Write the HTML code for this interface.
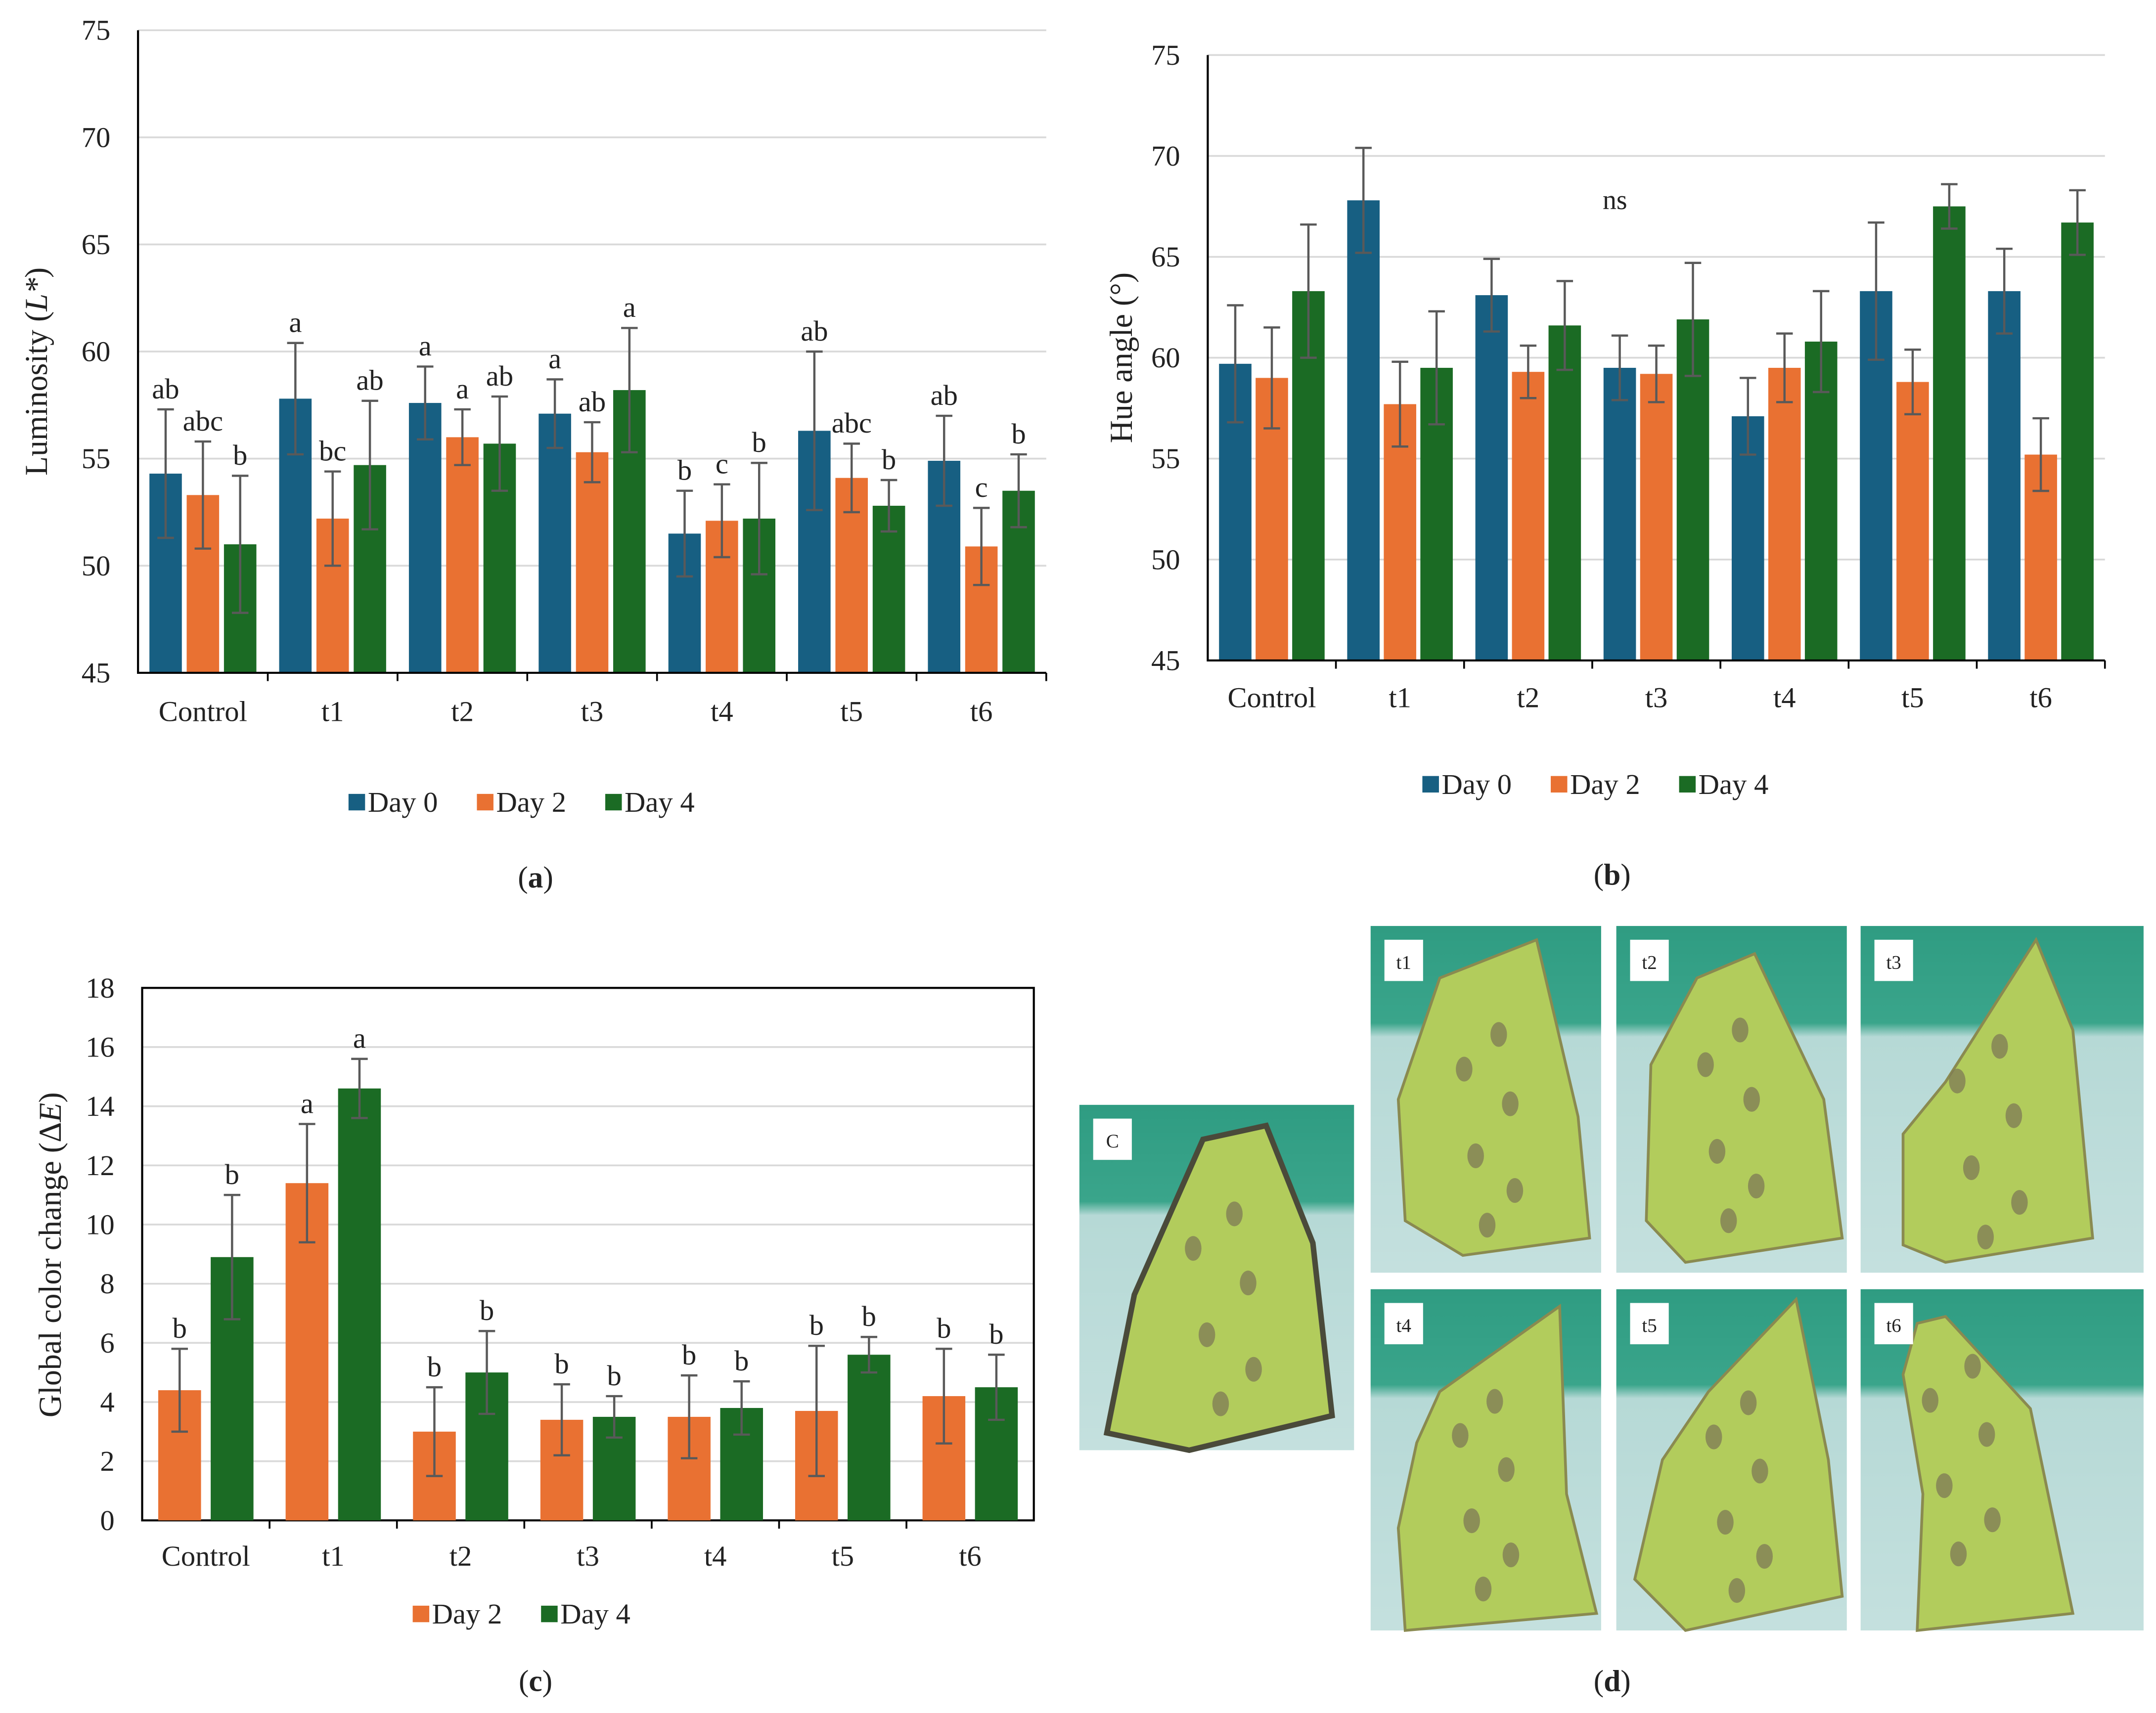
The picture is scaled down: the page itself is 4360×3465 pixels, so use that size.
<!DOCTYPE html>
<html><head><meta charset="utf-8">
<style>
html,body{margin:0;padding:0;background:#fff;}
svg{display:block;}
text{font-family:"Liberation Serif",serif;fill:#222;}
</style></head>
<body>
<svg id="fig" width="4360" height="3465" viewBox="0 0 1562 1245" preserveAspectRatio="none" xmlns="http://www.w3.org/2000/svg">
<defs>
<linearGradient id="cloth" x1="0" y1="0" x2="0" y2="1">
<stop offset="0" stop-color="#2f9c82"/><stop offset="0.28" stop-color="#3aa58b"/><stop offset="0.32" stop-color="#b6d9d6"/><stop offset="1" stop-color="#c4e0de"/>
</linearGradient>
</defs>
<g id="pa"></g>
<g id="pb"></g>
<g id="pc"></g>
<g id="pd"></g>
<text x="388" y="645" font-size="22" text-anchor="middle">(<tspan font-weight="bold">a</tspan>)</text>
<text x="1168" y="643" font-size="22" text-anchor="middle">(<tspan font-weight="bold">b</tspan>)</text>
<text x="388" y="1229" font-size="22" text-anchor="middle">(<tspan font-weight="bold">c</tspan>)</text>
<text x="1168" y="1229" font-size="22" text-anchor="middle">(<tspan font-weight="bold">d</tspan>)</text>
</svg>
<script>
const categories = ["Control","t1","t2","t3","t4","t5","t6"];
// Panel a: luminosity
const aDay0 = [54.3,57.8,57.6,57.1,51.5,56.3,54.9];
const aDay2 = [53.3,52.2,56.0,55.3,52.1,54.1,50.9];
const aDay4 = [51.0,54.7,55.7,58.2,52.2,52.8,53.5];
const aErr0 = [3.0,2.6,1.7,1.6,2.0,3.7,2.1];
const aErr2 = [2.5,2.2,1.3,1.4,1.7,1.6,1.8];
const aErr4 = [3.2,3.0,2.2,2.9,2.6,1.2,1.7];
const aLet0 = ["ab","a","a","a","b","ab","ab"];
const aLet2 = ["abc","bc","a","ab","c","abc","c"];
const aLet4 = ["b","ab","ab","a","b","b","b"];
const aTicks = [45,50,55,60,65,70,75];
// Panel b: hue angle
const bDay0 = [59.7,67.8,63.1,59.5,57.1,63.3,63.3];
const bDay2 = [59.0,57.7,59.3,59.2,59.5,58.8,55.2];
const bDay4 = [63.3,59.5,61.6,61.9,60.8,67.5,66.7];
const bErr0 = [2.9,2.6,1.8,1.6,1.9,3.4,2.1];
const bErr2 = [2.5,2.1,1.3,1.4,1.7,1.6,1.8];
const bErr4 = [3.3,2.8,2.2,2.8,2.5,1.1,1.6];
const bTicks = [45,50,55,60,65,70,75];
// Panel c: global color change
const cDay2 = [4.4,11.4,3.0,3.4,3.5,3.7,4.2];
const cDay4 = [8.9,14.6,5.0,3.5,3.8,5.6,4.5];
const cErr2 = [1.4,2.0,1.5,1.2,1.4,2.2,1.6];
const cErr4 = [2.1,1.0,1.4,0.7,0.9,0.6,1.1];
const cLet2 = ["b","a","b","b","b","b","b"];
const cLet4 = ["b","a","b","b","b","b","b"];
const cTicks = [0,2,4,6,8,10,12,14,16,18];

const COL = {d0:"#175f82", d2:"#e97132", d4:"#1b6b24"};
const NS = "http://www.w3.org/2000/svg";
function mk(parent, tag, attrs, txt){
  const e = document.createElementNS(NS, tag);
  for (const k in attrs) e.setAttribute(k, attrs[k]);
  if (txt !== undefined) e.textContent = txt;
  parent.appendChild(e);
  return e;
}

function chart(g, cfg){
  const yScale = v => cfg.y0 + (v - cfg.min) / (cfg.max - cfg.min) * (cfg.y1 - cfg.y0);
  const bw = (cfg.x1 - cfg.x0) / categories.length;
  // gridlines & ticks
  cfg.ticks.forEach(t => {
    const y = yScale(t);
    if (t !== cfg.min || cfg.box) {
      const gl = mk(g,"line",{x1:cfg.x0,x2:cfg.x1,y1:y,y2:y,stroke:cfg.box?"#d9d9d9":"#d9d9d9","stroke-width":1.3});
      
      
    }
    const tl = mk(g,"text",{x:cfg.x0-20,y:y+7,"font-size":21,"text-anchor":"end"}, t);
    
    
  });
  if (cfg.box) {
    const bx = mk(g,"rect",{x:cfg.x0,y:yScale(cfg.max),width:cfg.x1-cfg.x0,height:yScale(cfg.min)-yScale(cfg.max),fill:"none",stroke:"#000","stroke-width":1.5});
    
    
  }
  const series = cfg.series;
  const n = series.length;
  const totalW = n * cfg.barW + (n - 1) * cfg.gap;
  categories.forEach((c, i) => {
    const cx = cfg.x0 + bw * (i + 0.5);
    series.forEach((s, j) => {
      const x = cx - totalW / 2 + j * (cfg.barW + cfg.gap);
      const v = s.vals[i];
      const yTop = yScale(v), yB = yScale(cfg.min);
      const r = mk(g,"rect",{x:x,y:yTop,width:cfg.barW,height:yB-yTop,fill:s.color});
      
      
      const ex = x + cfg.barW / 2, eHi = yScale(v + s.err[i]), eLo = yScale(v - s.err[i]);
      const eb = mk(g,"path",{d:`M${ex},${eHi}V${eLo}M${ex-6},${eHi}H${ex+6}M${ex-6},${eLo}H${ex+6}`,stroke:"#595959","stroke-width":1.6,fill:"none"});
      
      
      if (s.letters) {
        const lt = mk(g,"text",{x:ex,y:eHi-8,"font-size":21,"text-anchor":"middle"}, s.letters[i]);
        
        
      }
    });
    const xl = mk(g,"text",{x:cx,y:cfg.labelY,"font-size":21,"text-anchor":"middle"}, c);
    
    
    if (!cfg.box) {
      const tk = mk(g,"line",{x1:cfg.x0+bw*(i+1),x2:cfg.x0+bw*(i+1),y1:yScale(cfg.min),y2:yScale(cfg.min)+6,stroke:"#000","stroke-width":1.3});
      
      
    } else if (i < categories.length - 1) {
      const tk = mk(g,"line",{x1:cfg.x0+bw*(i+1),x2:cfg.x0+bw*(i+1),y1:yScale(cfg.min),y2:yScale(cfg.min)+6,stroke:"#000","stroke-width":1.3});
      
      
    }
  });
  if (!cfg.box) {
    const ax = mk(g,"path",{d:`M${cfg.x0},${yScale(cfg.max)}V${yScale(cfg.min)}H${cfg.x1}`,stroke:"#000","stroke-width":1.5,fill:"none"});
    
    
  }
  // y title
  const yt = mk(g,"text",{transform:`translate(${cfg.titleX},${cfg.titleY}) rotate(-90)`,"font-size":23,"text-anchor":"middle"});
  yt.innerHTML = cfg.title;
  
  
  // legend
  const items = series.map(s => s.name);
  const itemW = 93;
  let lx = cfg.legX - items.length * itemW / 2;
  series.forEach(s => {
    const lg = mk(g,"g",{});
    
    
    mk(lg,"rect",{x:lx,y:cfg.legY-13,width:12,height:12,fill:s.color});
    mk(lg,"text",{x:lx+14,y:cfg.legY,"font-size":21}, s.name);
    lx += itemW;
  });
}

chart(document.getElementById("pa"), {
  x0:100, x1:758, y0:489, y1:22, min:45, max:75, ticks:aTicks, barW:23.5, gap:3.5, labelY:524,
  title:'Luminosity (<tspan font-style="italic">L*</tspan>)', titleX:34, titleY:270, legX:392, legY:590,
  series:[
    {key:"day0",name:"Day 0",color:COL.d0,vals:aDay0,err:aErr0,letters:aLet0},
    {key:"day2",name:"Day 2",color:COL.d2,vals:aDay2,err:aErr2,letters:aLet2},
    {key:"day4",name:"Day 4",color:COL.d4,vals:aDay4,err:aErr4,letters:aLet4}]
});
chart(document.getElementById("pb"), {
  x0:875, x1:1525, y0:480, y1:40, min:45, max:75, ticks:bTicks, barW:23.5, gap:3, labelY:514,
  title:'Hue angle (°)', titleX:820, titleY:260, legX:1170, legY:577,
  series:[
    {key:"day0",name:"Day 0",color:COL.d0,vals:bDay0,err:bErr0},
    {key:"day2",name:"Day 2",color:COL.d2,vals:bDay2,err:bErr2},
    {key:"day4",name:"Day 4",color:COL.d4,vals:bDay4,err:bErr4}]
});
(function(){
  const t = mk(document.getElementById("pb"),"text",{x:1170,y:152,"font-size":20,"text-anchor":"middle"},"ns");
  
  
})();
chart(document.getElementById("pc"), {
  x0:103, x1:749, y0:1105, y1:718, min:0, max:18, ticks:cTicks, barW:31, gap:7, labelY:1138, box:true,
  title:'Global color change (Δ<tspan font-style="italic">E</tspan>)', titleX:44, titleY:912, legX:392, legY:1180,
  series:[
    {key:"day2",name:"Day 2",color:COL.d2,vals:cDay2,err:cErr2,letters:cLet2},
    {key:"day4",name:"Day 4",color:COL.d4,vals:cDay4,err:cErr4,letters:cLet4}]
});

// Panel d: photos
const photos = [
  {lab:"C", x:782,y:803,w:199,h:251, leaf:[[0.45,0.1],[0.68,0.06],[0.85,0.4],[0.92,0.9],[0.4,1.0],[0.1,0.95],[0.2,0.55]], dark:true},
  {lab:"t1",x:993,y:673,w:167,h:252, leaf:[[0.3,0.15],[0.72,0.04],[0.9,0.55],[0.95,0.9],[0.4,0.95],[0.15,0.85],[0.12,0.5]]},
  {lab:"t2",x:1171,y:673,w:167,h:252, leaf:[[0.35,0.15],[0.6,0.08],[0.9,0.5],[0.98,0.9],[0.3,0.97],[0.13,0.85],[0.15,0.4]]},
  {lab:"t3",x:1348,y:673,w:205,h:252, leaf:[[0.3,0.45],[0.62,0.04],[0.75,0.3],[0.82,0.9],[0.3,0.97],[0.15,0.92],[0.15,0.6]]},
  {lab:"t4",x:993,y:937,w:167,h:248, leaf:[[0.3,0.3],[0.82,0.05],[0.85,0.6],[0.98,0.95],[0.15,1.0],[0.12,0.7],[0.2,0.45]]},
  {lab:"t5",x:1171,y:937,w:167,h:248, leaf:[[0.4,0.3],[0.78,0.03],[0.92,0.5],[0.98,0.9],[0.3,1.0],[0.08,0.85],[0.2,0.5]]},
  {lab:"t6",x:1348,y:937,w:205,h:248, leaf:[[0.2,0.1],[0.3,0.08],[0.6,0.35],[0.75,0.95],[0.2,1.0],[0.22,0.6],[0.15,0.25]]}
];
const pd = document.getElementById("pd");
photos.forEach(p => {
  const g = mk(pd,"g",{});
  
  
  mk(g,"rect",{x:p.x,y:p.y,width:p.w,height:p.h,fill:"url(#cloth)"});
  const pts = p.leaf.map(q => (p.x+q[0]*p.w)+","+(p.y+q[1]*p.h)).join(" ");
  mk(g,"polygon",{points:pts,fill:"#b2cc5c",stroke:p.dark?"#4a4a3a":"#8a8a50","stroke-width":p.dark?4:2});
  const cx = p.leaf.reduce((a,q)=>a+q[0],0)/p.leaf.length, cy = p.leaf.reduce((a,q)=>a+q[1],0)/p.leaf.length;
  [[-0.1,-0.15],[0.1,-0.05],[-0.05,0.1],[0.12,0.2],[0,0.3],[0.05,-0.25]].forEach(d => {
    mk(g,"ellipse",{cx:p.x+(cx+d[0])*p.w,cy:p.y+(cy+d[1])*p.h,rx:6,ry:9,fill:"#7d7a55",opacity:0.75});
  });
  mk(g,"rect",{x:p.x+10,y:p.y+10,width:28,height:30,fill:"#fff"});
  mk(g,"text",{x:p.x+24,y:p.y+31,"font-size":14,"text-anchor":"middle","font-family":"Liberation Sans, sans-serif"},p.lab);
});
</script>
</body></html>
